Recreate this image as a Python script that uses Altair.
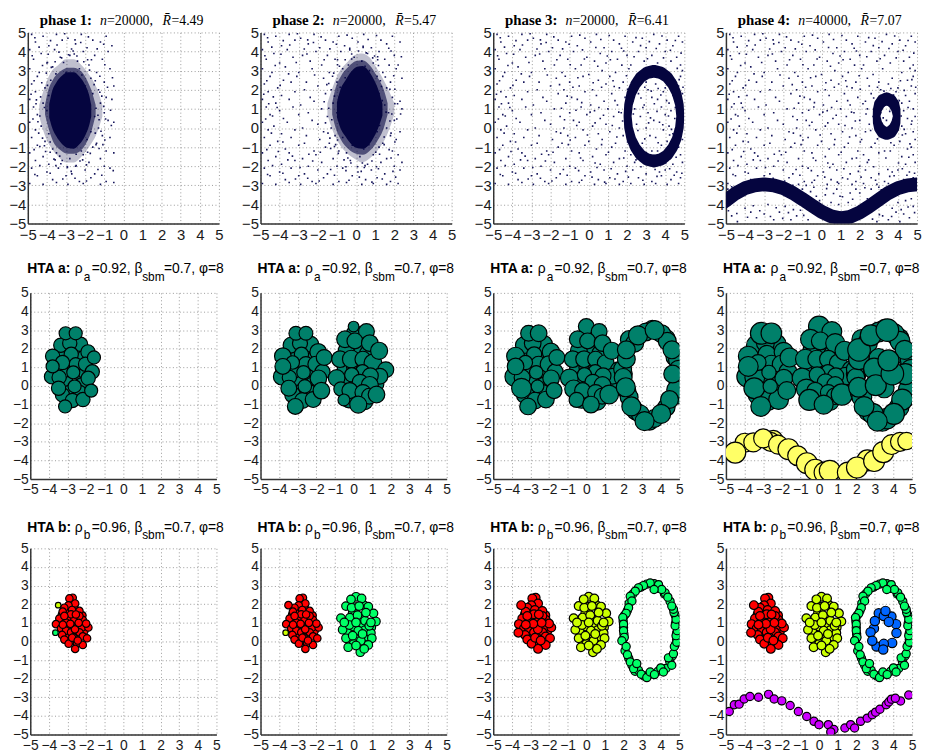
import altair as alt
import pandas as pd

# The background stipple is far too dense to read dot by dot (thousands of dots), so
# the stipple_* lists are a sparse hand-typed approximation of its spread, and the
# dense cores are drawn as bands / trails whose extents were read from the picture.
TICKS = [-5, -4, -3, -2, -1, 0, 1, 2, 3, 4, 5]
NAVY = "#05053f"
DOT = "#17175c"
TEAL = "#00806a"
SAND = "#ffff66"
RED = "#ff0000"
LIME = "#00ff66"
CHART = "#ccff00"
BLUE = "#0066ff"
PURPLE = "#cc00ff"

stipple_main = [
(-4.8,4.9),(-4.2,4.8),(-3.5,4.9),(-2.9,4.7),(-2.2,4.9),(-1.6,4.6),(-0.9,4.8),(-0.2,4.7),(0.4,4.9),(1.3,4.6),(1.9,4.8),(2.8,4.7),(3.4,4.9),(4.1,4.6),(4.7,4.8),
(-4.6,4.5),(-3.9,4.3),(-3.2,4.6),(-2.5,4.4),(-1.9,4.2),(-1.2,4.5),(-0.6,4.3),(0.1,4.5),(0.8,4.2),(1.6,4.4),(2.3,4.5),(3.0,4.2),(3.7,4.4),(4.4,4.3),(4.9,4.5),
(-4.9,4.1),(-4.3,3.9),(-3.6,4.1),(-2.8,3.8),(-2.1,4.0),(-1.5,3.8),(-0.8,4.0),(-0.1,3.7),(0.6,3.9),(1.2,4.0),(2.0,3.8),(2.6,4.0),(3.3,3.8),(4.0,4.0),(4.6,3.7),
(-4.7,3.6),(-4.0,3.4),(-3.3,3.7),(-2.4,3.5),(-1.8,3.3),(-1.1,3.6),(-0.4,3.3),(0.3,3.5),(0.9,3.4),(1.5,3.6),(2.2,3.3),(2.9,3.5),(3.6,3.4),(4.3,3.5),(4.8,3.3),
(-4.9,3.1),(-4.4,2.9),(-3.7,3.2),(-3.0,2.9),(-2.3,3.1),(-1.4,2.9),(-0.7,3.1),(0.0,2.8),(0.7,3.0),(1.4,2.9),(2.1,3.1),(2.7,2.8),(3.2,3.1),(4.2,2.9),(4.9,3.0),
(-4.5,2.7),(-3.8,2.5),(-3.1,2.7),(-2.6,2.4),(-1.7,2.6),(-1.0,2.4),(-0.3,2.7),(0.5,2.5),(1.1,2.7),(1.8,2.4),(2.4,2.6),(3.0,2.4),(3.7,2.6),(4.5,2.5),(4.8,2.7),
(-4.8,2.3),(-4.1,2.1),(-3.4,2.4),(-2.7,2.0),(-2.0,2.2),(-1.3,2.0),(-0.5,2.2),(0.2,2.0),(0.9,2.3),(1.6,2.1),(2.5,2.2),(3.1,2.0),(3.5,2.3),(4.0,2.1),(4.7,2.2),
(-4.6,1.9),(-3.9,1.7),(-3.2,1.9),(-2.4,1.6),(-1.6,1.8),(-0.9,1.6),(-0.2,1.9),(0.4,1.7),(1.2,1.8),(1.9,1.6),(2.6,1.8),(3.3,1.6),(3.9,1.9),(4.4,1.7),(4.9,1.8),
(-4.9,1.5),(-4.2,1.3),(-3.5,1.5),(-2.9,1.2),(-2.2,1.4),(-1.2,1.3),(-0.6,1.5),(0.1,1.2),(0.8,1.4),(1.5,1.2),(2.3,1.4),(2.9,1.2),(3.6,1.5),(4.2,1.3),(4.6,1.4),
(-4.7,1.1),(-4.0,0.9),(-3.3,1.1),(-2.5,0.8),(-1.8,1.0),(-1.0,0.8),(-0.4,1.1),(0.3,0.9),(1.0,1.0),(1.7,0.8),(2.4,1.0),(3.1,0.8),(3.8,1.1),(4.3,0.9),(4.8,1.0),
(-4.5,0.7),(-3.8,0.5),(-3.0,0.7),(-2.3,0.4),(-1.5,0.6),(-0.8,0.4),(-0.1,0.7),(0.6,0.5),(1.3,0.6),(2.0,0.4),(2.7,0.6),(3.4,0.4),(4.0,0.7),(4.5,0.5),(4.9,0.6),
(-4.9,0.3),(-4.3,0.1),(-3.6,0.3),(-2.8,0.0),(-2.0,0.2),(-1.3,0.0),(-0.5,0.3),(0.2,0.1),(0.9,0.2),(1.6,0.0),(2.5,0.2),(3.0,0.0),(3.7,0.3),(4.2,0.1),(4.7,0.2),
(-4.6,-0.1),(-3.9,-0.3),(-3.2,-0.1),(-2.6,-0.4),(-1.7,-0.2),(-1.1,-0.4),(-0.3,-0.1),(0.5,-0.3),(1.1,-0.2),(1.8,-0.4),(2.3,-0.2),(3.2,-0.4),(3.9,-0.1),(4.4,-0.3),(4.8,-0.2),
(-4.8,-0.5),(-4.1,-0.7),(-3.4,-0.5),(-2.7,-0.8),(-1.9,-0.6),(-1.4,-0.8),(-0.7,-0.5),(0.0,-0.7),(0.7,-0.6),(1.4,-0.8),(2.1,-0.6),(2.8,-0.8),(3.5,-0.5),(4.1,-0.7),(4.9,-0.6),
(-4.5,-0.9),(-3.7,-1.1),(-3.0,-0.9),(-2.2,-1.2),(-1.6,-1.0),(-0.9,-1.2),(-0.2,-0.9),(0.4,-1.1),(1.2,-1.0),(1.9,-1.2),(2.6,-1.0),(3.3,-1.2),(3.8,-0.9),(4.5,-1.1),(4.7,-1.0),
(-4.9,-1.3),(-4.2,-1.5),(-3.5,-1.3),(-2.8,-1.6),(-2.1,-1.4),(-1.2,-1.6),(-0.5,-1.3),(0.2,-1.5),(0.9,-1.4),(1.6,-1.6),(2.2,-1.4),(3.0,-1.3),(3.6,-1.2),(4.2,-1.5),(4.8,-1.4),
(-4.6,-1.7),(-3.9,-1.9),(-3.2,-1.7),(-2.5,-2.0),(-1.8,-1.8),(-1.0,-2.0),(-0.3,-1.7),(0.6,-1.9),(1.3,-1.8),(2.0,-2.0),(2.4,-1.8),(3.7,-2.3),(4.4,-1.9),(4.9,-1.8),
(-4.8,-2.1),(-4.0,-2.3),(-3.4,-2.1),(-2.7,-2.4),(-2.0,-2.2),(-1.5,-2.4),(-0.7,-2.1),(0.1,-2.3),(0.8,-2.2),(1.5,-2.4),(2.3,-2.2),(3.0,-2.4),(4.0,-2.2),(4.6,-2.3),
(-4.5,-2.5),(-3.7,-2.7),(-3.0,-2.5),(-2.3,-2.8),(-1.7,-2.6),(-0.9,-2.8),(-0.2,-2.5),(0.5,-2.7),(1.1,-2.6),(1.8,-2.8),(2.6,-2.6),(3.3,-2.8),(3.8,-2.5),(4.3,-2.7),(4.8,-2.6),
(-4.9,-2.9),(-4.2,-2.95),(-3.5,-2.85),(-2.9,-2.95),(-2.1,-2.9),(-1.2,-2.95),(-0.5,-2.85),(0.3,-2.95),(0.9,-2.9),(1.6,-2.95),(2.2,-2.9),(2.9,-2.95),(3.5,-2.9),(4.1,-2.95),(4.7,-2.9),
]
stipple_more = [
(-4.63,4.72),(-3.81,4.57),(-3.07,4.93),(-2.53,4.61),(-1.83,4.77),(-1.03,4.38),(-0.47,4.86),(0.63,4.63),(1.07,4.84),(1.71,4.17),(2.47,4.73),(3.17,4.52),(3.83,4.81),(4.53,4.58),
(-4.41,4.23),(-3.47,4.34),(-2.71,4.13),(-2.23,4.47),(-1.37,4.14),(-0.33,4.09),(0.37,4.21),(0.97,3.77),(1.83,4.03),(2.71,4.31),(3.53,4.16),(4.27,4.07),(4.83,3.92),
(-4.77,3.78),(-3.93,3.86),(-3.13,3.43),(-2.57,3.87),(-1.67,3.57),(-0.97,3.31),(-0.23,3.61),(0.47,3.23),(1.13,3.57),(1.73,3.29),(2.37,3.73),(3.07,3.62),(3.91,3.67),(4.63,3.12),
(-4.23,3.27),(-3.53,2.83),(-2.17,2.77),(-1.23,2.71),(-0.57,2.63),(0.23,2.37),(1.27,2.47),(1.97,2.73),(2.93,2.13),(3.63,2.07),(4.13,2.47),(4.73,2.53),
(-4.67,2.47),(-3.97,2.23),(-1.53,2.27),(-0.83,2.13),(0.67,2.13),(1.33,2.17),(2.03,2.03),(2.73,1.57),(3.27,1.93),(3.77,1.73),(4.33,1.97),(4.93,2.13),
(-4.83,1.77),(-4.33,1.63),(-1.13,1.67),(-0.37,1.33),(0.53,1.07),(1.37,1.43),(2.17,1.27),(2.83,1.07),(3.43,1.27),(4.07,1.43),(4.53,1.07),
(-4.57,1.27),(-4.13,1.07),(-1.43,1.03),(-0.67,0.93),(0.07,0.83),(0.77,0.67),(1.57,0.83),(2.33,0.73),(3.23,0.53),(3.57,0.87),(4.17,0.63),(4.73,0.37),
(-4.73,0.47),(-4.37,0.63),(-1.27,0.43),(-0.63,0.13),(0.33,0.27),(1.23,0.13),(1.77,0.37),(2.57,-0.13),(3.13,0.27),(3.87,0.17),(4.33,-0.07),
(-4.43,-0.27),(-3.83,-0.73),(-1.47,-0.27),(-0.97,-0.63),(-0.07,-0.37),(0.67,-0.87),(1.47,-0.47),(2.03,-0.73),(2.93,-0.57),(3.63,-0.77),(4.23,-0.37),(4.63,-0.83),
(-4.67,-1.13),(-4.07,-1.23),(-3.33,-1.47),(-2.47,-1.37),(-1.87,-1.27),(-1.07,-0.87),(-0.43,-1.57),(0.33,-1.83),(1.03,-1.27),(1.83,-1.57),(2.47,-1.67),(3.37,-1.57),(4.03,-1.83),(4.57,-1.53),
(-4.37,-1.97),(-3.57,-1.67),(-2.93,-2.07),(-2.27,-1.73),(-1.33,-2.17),(-0.53,-2.23),(0.43,-2.07),(1.17,-2.13),(1.93,-2.27),(2.73,-2.03),(3.47,-2.17),(4.23,-2.13),(4.87,-2.37),
(-4.63,-2.43),(-3.83,-2.37),(-3.17,-2.67),(-2.53,-2.63),(-1.93,-2.77),(-1.13,-2.47),(-0.37,-2.73),(0.17,-2.57),(0.83,-2.83),(1.37,-2.67),(2.07,-2.57),(2.83,-2.73),(3.57,-2.53),(4.47,-2.47),
(-4.7,-3.07),(-4.13,-3.03),(-3.3,-3.1),(-1.7,-3.13),(-1.27,-3.27),(-0.57,-3.33),(0.27,-3.17),(0.97,-3.57),(1.63,-3.73),(2.27,-3.13),(2.83,-3.53),(3.13,-3.23),(-0.27,-3.57),(0.63,-3.43),
(-4.87,-4.33),(-4.43,-4.47),(-3.87,-4.67),(-3.23,-4.33),(-2.67,-4.63),(-2.03,-4.73),(-1.47,-4.27),(-0.93,-4.57),(-3.57,-4.07),(-2.37,-4.17),(-1.73,-4.43),(4.87,-4.43),(4.17,-4.27),(3.67,-4.63),(3.03,-4.53),(4.53,-4.13),(2.67,-4.77),
]
stipple_low = [
(-4.7,-4.6),(-4.0,-4.2),(-3.4,-4.7),(-2.8,-4.0),(-2.2,-4.4),(-1.6,-4.8),(-1.1,-4.3),(-0.7,-4.8),(-4.4,-4.9),(-3.7,-4.4),(-3.0,-4.5),(-2.5,-4.8),(-1.9,-4.1),(-1.3,-4.6),
(-0.4,-3.1),(0.2,-3.5),(0.8,-3.2),(1.4,-3.9),(2.0,-3.4),(2.6,-3.2),(3.0,-3.1),(0.5,-3.9),(1.1,-3.6),(1.8,-3.2),(-0.1,-3.8),(1.5,-3.4),(2.4,-3.7),(0.9,-4.0),
(3.2,-4.6),(3.7,-4.2),(4.3,-4.5),(4.8,-4.1),(3.5,-4.8),(4.1,-4.9),(4.6,-4.7),(2.9,-4.9),(4.0,-3.9),(4.7,-3.7),(3.9,-4.4),(4.4,-3.8),
(-4.9,-3.2),(-4.3,-3.0),(-3.9,-3.3),(-1.5,-3.0),(-1.0,-3.2),(-0.8,-3.0),
]
fringe_1 = [
(-4.55,1.47),(-4.47,0.33),(-4.27,2.37),(-4.23,-0.53),(-4.03,2.87),(-4.13,-0.93),(-3.77,3.17),(-3.83,-1.27),(-3.57,3.47),(-3.63,-1.63),(-3.23,3.67),(-3.27,-1.87),(-2.87,3.83),(-2.93,-2.03),
(-2.43,3.77),(-2.47,-1.97),(-2.07,3.47),(-2.13,-1.67),(-1.77,3.03),(-1.73,-1.33),(-1.47,2.47),(-1.43,-0.87),(-1.23,1.87),(-1.17,-0.17),(-1.03,1.13),(-0.93,0.47),(-1.33,0.67),
(-3.97,3.43),(-3.37,3.97),(-2.63,4.03),(-1.87,3.57),(-4.37,-0.97),(-3.53,-1.97),(-2.73,-2.27),(-1.93,-1.93),(-1.27,-1.07),
]
fringe_2 = [
(-1.67,1.37),(-1.6,0.27),(-1.43,2.33),(-1.37,-0.53),(-1.17,2.87),(-1.13,-0.97),(-0.87,3.23),(-0.93,-1.33),(-0.57,3.57),(-0.63,-1.67),(-0.23,3.87),(-0.27,-1.83),(0.13,4.03),(0.07,-2.03),
(0.53,3.93),(0.47,-1.97),(0.87,3.67),(0.83,-1.73),(1.17,3.27),(1.23,-1.37),(1.53,2.67),(1.47,-0.87),(1.77,2.03),(1.83,-0.27),(2.03,1.27),(2.13,0.47),(1.87,0.73),
(-0.97,3.57),(-0.33,4.17),(0.37,4.27),(1.13,3.73),(-1.33,-1.07),(-0.53,-2.03),(0.27,-2.27),(1.07,-2.03),(1.73,-1.13),
]

core_x = [-3.88, -3.72, -3.5, -3.2, -2.9, -2.6, -2.3, -2.0, -1.8, -1.68]
core_low = [0.55, 0.0, -0.45, -0.85, -1.05, -1.08, -0.85, -0.4, 0.1, 0.6]
core_high = [1.25, 1.95, 2.4, 2.75, 2.92, 2.92, 2.7, 2.25, 1.75, 1.2]
mid_x = [-4.1, -3.95, -3.7, -3.3, -2.9, -2.6, -2.2, -1.9, -1.65, -1.45]
mid_low = [0.7, 0.1, -0.65, -1.15, -1.35, -1.35, -1.15, -0.7, -0.1, 0.7]
mid_high = [1.2, 1.9, 2.5, 2.95, 3.15, 3.15, 2.95, 2.5, 1.9, 1.2]
halo_x = [-4.4, -4.1, -3.8, -3.4, -3.0, -2.6, -2.2, -1.8, -1.4, -1.1]
halo_low = [0.6, -0.4, -1.0, -1.5, -1.8, -1.8, -1.5, -1.0, -0.3, 0.6]
halo_high = [1.2, 2.2, 2.9, 3.3, 3.6, 3.6, 3.3, 2.8, 2.1, 1.2]
core2_x = [-1.0, -0.82, -0.55, -0.25, 0.05, 0.35, 0.65, 0.95, 1.2, 1.38]
core2_low = [0.55, 0.0, -0.45, -0.85, -1.05, -1.08, -0.9, -0.45, 0.1, 0.65]
core2_high = [1.35, 2.0, 2.5, 2.95, 3.2, 3.25, 3.0, 2.5, 1.9, 1.25]
mid2_x = [-1.25, -1.1, -0.8, -0.4, 0.0, 0.35, 0.7, 1.1, 1.45, 1.65]
mid2_low = [0.7, 0.1, -0.6, -1.1, -1.35, -1.4, -1.2, -0.7, 0.0, 0.7]
mid2_high = [1.3, 2.0, 2.7, 3.2, 3.5, 3.55, 3.3, 2.7, 2.0, 1.3]
halo2_x = [-1.5, -1.2, -0.9, -0.5, -0.1, 0.3, 0.7, 1.1, 1.6, 2.0]
halo2_low = [0.7, -0.2, -0.8, -1.3, -1.6, -1.8, -1.6, -1.2, -0.4, 0.7]
halo2_high = [1.3, 2.2, 2.9, 3.4, 3.8, 3.9, 3.7, 3.1, 2.2, 1.3]

ring3_x = [3.41, 3.77, 4.10, 4.38, 4.60, 4.74, 4.79, 4.74, 4.60, 4.38, 4.10, 3.77, 3.41, 3.05, 2.72, 2.44, 2.22, 2.08, 2.03, 2.08, 2.22, 2.44, 2.72, 3.05, 3.41]
ring3_y = [2.97, 2.89, 2.66, 2.28, 1.80, 1.23, 0.62, 0.01, -0.56, -1.04, -1.42, -1.65, -1.73, -1.65, -1.42, -1.04, -0.56, 0.01, 0.62, 1.23, 1.80, 2.28, 2.66, 2.89, 2.97]
ring3_w = [0.66, 0.64, 0.60, 0.55, 0.50, 0.45, 0.42, 0.45, 0.50, 0.55, 0.60, 0.64, 0.66, 0.64, 0.60, 0.55, 0.50, 0.45, 0.42, 0.45, 0.50, 0.55, 0.60, 0.64, 0.66]
ring4_x = [3.41, 3.61, 3.78, 3.89, 3.94, 3.89, 3.78, 3.61, 3.41, 3.21, 3.04, 2.93, 2.88, 2.93, 3.04, 3.21, 3.41]
ring4_y = [1.52, 1.45, 1.26, 0.97, 0.62, 0.27, -0.02, -0.21, -0.28, -0.21, -0.02, 0.27, 0.62, 0.97, 1.26, 1.45, 1.52]
ring4_w = [0.68, 0.65, 0.58, 0.48, 0.40, 0.48, 0.58, 0.65, 0.68, 0.65, 0.58, 0.48, 0.40, 0.48, 0.58, 0.65, 0.68]
wave_x = [-5.3, -5, -4.5, -4, -3.5, -3, -2.5, -2, -1.5, -1, -0.5, 0, 0.5, 1, 1.5, 2, 2.5, 3, 3.5, 4, 4.5, 5, 5.3]
wave_y = [-4.0, -3.8, -3.42, -3.15, -3.0, -2.95, -3.0, -3.15, -3.4, -3.72, -4.05, -4.38, -4.62, -4.72, -4.65, -4.42, -4.1, -3.75, -3.4, -3.15, -3.0, -2.95, -2.93]

# HTA a: x, y, radius in phases 1-4 (0 = cluster not there yet)
a_left_fill = [
(-3.05,1.75,.36,.38,.40,.42),(-2.40,1.70,.36,.38,.40,.42),(-3.05,0.95,.36,.38,.40,.42),(-2.30,0.65,.36,.38,.40,.42),
(-3.05,0.15,.36,.38,.40,.42),(-2.25,0.05,.36,.38,.40,.42),(-2.90,-0.35,.36,.38,.40,.42),(-2.35,-0.35,.36,.38,.40,.42),
(-3.55,1.10,.36,.38,.40,.42),(-3.30,0.75,.36,.38,.40,.42),(-2.05,0.75,.36,.38,.40,.42),(-2.70,2.00,.36,.38,.40,.42),
(-3.50,1.65,.36,.38,.40,.42),
]
a_left = [
(-3.36,2.19,.36,.40,.42,.50),(-2.30,2.24,.36,.40,.45,.50),(-2.88,2.30,.36,.38,.42,.45),(-3.80,1.60,.36,.42,.45,.50),
(-2.80,1.70,.36,.36,.38,.45),(-1.90,1.83,.36,.42,.44,.48),(-2.56,1.17,.33,.38,.40,.45),(-2.03,1.17,.36,.40,.42,.45),
(-1.67,0.76,.36,.38,.40,.45),(-3.86,0.50,.36,.42,.48,.52),(-3.45,0.46,.36,.36,.40,.50),(-1.89,0.41,.36,.42,.42,.45),
(-3.27,-0.48,.36,.40,.45,.50),(-2.74,-0.78,.36,.40,.42,.50),(-2.17,-0.73,.36,.40,.42,.50),(-3.48,-0.12,.36,.40,.50,.52),
(-3.27,1.26,.36,.34,.36,.40),(-2.69,0.73,.33,.34,.34,.36),(-2.62,-0.02,.33,.34,.32,.36),(-1.73,-0.25,.33,.42,.40,.45),
(-1.58,1.53,.33,.40,.40,.48),(-3.80,1.05,.33,.40,.42,.50),(-3.13,-1.10,.33,.40,.42,.50),(-3.10,2.83,.33,.35,.40,.55),
(-2.56,2.83,.33,.35,.42,.52),
]
a_mid_fill = [
(0.10,1.90,0,.40,.42,.44),(0.45,2.00,0,.40,.42,.44),(-0.40,1.90,0,.40,.42,.44),(0.75,1.75,0,.40,.42,.44),
(-0.45,0.95,0,.40,.42,.44),(0.05,1.00,0,.40,.42,.44),(0.55,1.15,0,.40,.42,.44),(1.20,0.90,0,.40,.42,.44),
(-0.40,0.20,0,.40,.42,.44),(0.20,-0.35,0,.40,.42,.44),(1.20,0.10,0,.40,.42,.44),(0.05,2.85,0,.40,.42,.44),
(-0.25,-0.75,0,.40,.42,.44),(0.60,-0.85,0,.40,.42,.44),
]
a_mid = [
(0.00,3.19,0,.27,.40,.53),(0.69,2.92,0,.40,.40,.50),(-0.46,2.51,0,.42,.42,.50),(0.07,2.42,0,.40,.40,.45),
(0.87,2.30,0,.42,.42,.48),(-0.73,1.44,0,.42,.42,.50),(-0.12,1.44,0,.45,.42,.45),(0.50,1.44,0,.40,.40,.44),
(1.04,1.23,0,.45,.42,.45),(1.73,0.87,0,.40,.40,.45),(1.41,0.52,0,.40,.40,.45),(0.48,0.76,0,.36,.36,.36),
(0.90,0.55,0,.40,.40,.40),(-0.91,0.43,0,.42,.45,.50),(-0.10,0.60,0,.36,.36,.40),(0.35,0.20,0,.40,.40,.42),
(-0.68,-0.16,0,.36,.45,.50),(-0.20,-0.25,0,.40,.40,.42),(0.87,0.05,0,.43,.42,.42),(0.50,-0.35,0,.40,.40,.40),
(0.85,-0.55,0,.40,.40,.42),(1.23,-0.46,0,.42,.47,.54),(-0.52,-0.75,0,.30,.38,.53),(0.25,-1.00,0,.43,.42,.48),
(1.37,1.89,0,.43,.43,.48),
]
a_ring_fill = [
(2.30,2.50,0,0,.44,.50),(3.55,3.05,0,0,.44,.50),(4.30,2.55,0,0,.44,.50),(4.75,1.55,0,0,.44,.50),
(4.90,0.30,0,0,.44,.50),(4.85,-0.50,0,0,.44,.50),(4.30,-1.15,0,0,.44,.50),(3.40,-1.90,0,0,.44,.50),
(2.65,-1.35,0,0,.44,.50),(2.20,-0.30,0,0,.44,.50),(2.00,0.65,0,0,.44,.50),
]
a_ring = [
(2.60,2.30,0,0,.45,.50),(3.20,2.90,0,0,.45,.50),(4.05,2.80,0,0,.45,.50),(4.35,2.40,0,0,.45,.50),
(4.90,1.40,0,0,.45,.50),(4.95,0.90,0,0,.45,.50),(4.80,-0.20,0,0,.45,.50),(3.65,-1.75,0,0,.45,.52),
(2.90,-1.50,0,0,.45,.52),(2.30,-0.60,0,0,.45,.50),(1.95,0.90,0,0,.45,.45),(1.98,0.46,0,0,.45,.45),
(2.12,-0.07,0,0,.48,.50),(2.15,1.44,0,0,.45,.53),(2.15,1.94,0,0,.45,.57),(2.78,2.72,0,0,.48,.53),
(3.67,3.00,0,0,.48,.57),(4.60,1.94,0,0,.45,.48),(4.64,0.64,0,0,.45,.53),(4.47,-0.73,0,0,.45,.53),
(4.02,-1.50,0,0,.48,.53),(2.42,-1.10,0,0,.48,.50),(3.13,-1.89,0,0,.48,.50),
]
a_inner = [
(3.20,1.50,.48),(2.96,0.93,.53),(3.50,-0.10,.50),(3.05,0.04,.53),(3.94,0.66,.57),(3.73,1.37,.53),
]
a_wave = [
(-4.0,-3.05,.48),(-4.5,-3.58,.53),(-3.53,-3.03,.48),(-2.45,-2.9,.48),(-2.6,-3.0,.48),(-3.0,-2.82,.48),
(-2.2,-3.15,.48),(-1.64,-3.4,.53),(-1.15,-3.75,.50),(-0.65,-4.15,.53),(-0.2,-4.5,.53),(0.3,-4.65,.53),
(0.58,-4.56,.53),(1.55,-4.65,.53),(2.6,-4.0,.53),(2.04,-4.38,.53),(2.96,-4.03,.53),(3.45,-3.55,.53),
(3.9,-3.15,.50),(4.35,-3.0,.48),(4.7,-2.96,.44),
]

# HTA b: x, y
b_red = [
(-3.40,1.00),(-3.05,1.55),(-2.60,1.75),(-2.20,1.40),(-2.10,0.55),(-2.95,0.30),(-2.60,0.00),(-3.30,1.45),(-2.80,0.75),(-2.45,0.35),(-2.75,1.00),(-2.30,0.95),
(-2.72,2.35),(-2.90,2.31),(-2.59,2.04),(-2.95,1.94),(-3.17,1.81),(-3.26,1.60),(-2.76,1.69),(-2.36,1.64),(-3.44,1.23),(-2.95,1.16),
(-2.63,1.19),(-2.18,1.16),(-3.62,0.93),(-3.35,0.70),(-2.99,0.84),(-2.49,0.81),(-2.22,0.75),(-1.88,0.75),(-2.00,0.96),(-3.08,0.58),
(-2.81,0.49),(-2.36,0.49),(-3.29,0.35),(-2.67,0.22),(-2.18,0.27),(-1.95,0.17),(-3.17,0.10),(-2.94,-0.12),(-2.49,-0.10),(-2.18,-0.19),
(-2.59,-0.40),(-3.08,1.02),(-2.36,1.37),(-2.81,1.46),(-3.17,1.37),(-2.60,0.65),(-2.40,1.00),(-2.85,0.95),(-2.55,1.45),(-3.25,0.90),
(-2.75,0.20),(-2.45,0.05),
]
b_red_extra = [(-3.5,1.95)]
b_red_extra2 = [(-3.65,0.47)]
b_mid = [
(0.00,0.80),(0.40,0.85),(0.60,0.60),(0.30,1.30),(-0.35,0.50),(0.75,0.25),(0.10,0.15),(-0.05,1.55),(0.55,1.95),(0.95,0.75),(0.35,-0.20),(-0.15,-0.05),(0.10,1.85),
(-0.41,1.90),(0.13,2.40),(0.43,2.31),(-0.11,1.81),(0.79,1.87),(1.07,1.51),(1.20,1.07),(-0.68,1.25),(-0.20,1.28),(0.21,1.41),
(0.61,1.11),(-0.59,0.63),(-0.23,0.88),(0.25,0.58),(0.93,0.45),(0.98,0.17),(-0.41,0.17),(0.00,-0.13),(0.39,0.04),(0.79,-0.19),
(-0.29,-0.31),(0.36,-0.58),(0.84,0.84),(0.13,1.02),(0.48,0.40),(-0.05,0.31),(0.66,1.55),(0.30,1.90),(-0.50,1.02),(-0.14,2.26),
(0.93,1.02),(0.57,-0.40),(0.13,-0.22),
]
b_ring_back = [
(3.65,3.10),(3.25,3.08),(2.93,2.92),(2.50,2.55),(2.30,2.05),(2.20,1.65),(2.05,1.40),(1.98,1.10),(2.00,0.75),(2.02,0.40),
(1.97,0.10),(2.08,-0.50),(2.28,-0.90),(2.45,-1.28),(2.62,-1.60),(2.80,-1.55),(3.10,-1.85),(3.35,-1.80),(3.85,-1.60),(4.28,-1.45),
(4.48,-1.08),(4.62,-0.78),(4.80,-0.15),(4.85,0.10),(4.85,0.45),(4.80,1.00),(4.78,1.40),(4.50,2.15),(4.20,2.55),(3.85,2.85),
]
b_ring = [
(4.23,2.61),(3.88,3.05),(3.43,3.14),(3.07,3.00),(2.80,2.88),(2.63,2.70),(2.36,2.43),(2.45,2.17),(2.27,1.81),(2.14,1.51),
(1.96,1.28),(2.00,0.93),(2.00,0.58),(2.04,0.22),(1.91,0.04),(2.14,-0.27),(2.21,-0.72),(2.36,-1.10),(2.54,-1.46),(2.71,-1.19),
(2.95,-1.76),(3.25,-1.94),(3.43,-1.64),(3.66,-1.78),(4.00,-1.42),(4.14,-1.64),(4.59,-1.28),(4.41,-0.88),(4.68,-0.66),(4.73,-0.27),
(4.86,-0.04),(4.82,0.31),(4.89,0.58),(4.77,0.84),(4.82,1.19),(4.71,1.55),(4.68,1.73),(4.59,1.90),(4.38,2.38),(4.05,2.79),(3.64,2.79),
]
b_inner = [
(3.21,1.51),(2.95,0.70),(3.00,1.10),(3.89,1.34),(4.14,0.93),(4.16,0.45),(3.93,-0.08),(3.09,-0.27),(2.77,0.49),(2.86,0.04),
(3.48,1.37),(3.75,1.05),(3.48,-0.13),(3.45,-0.43),(3.57,1.64),
]
b_wave = [
(-4.82,-3.76),(-4.55,-3.40),(-4.29,-3.37),(-4.02,-3.09),(-3.71,-2.96),(-3.25,-3.00),(-2.71,-2.84),(-2.41,-3.09),(-2.00,-3.19),(-1.55,-3.44),
(-1.11,-3.76),(-0.66,-4.03),(-0.27,-4.29),(0.00,-4.47),(0.50,-4.47),(0.80,-4.73),(0.63,-4.86),(1.39,-4.65),(1.70,-4.47),(1.91,-4.65),
(2.23,-4.29),(2.59,-4.12),(2.86,-3.94),(3.04,-3.80),(3.27,-3.64),(3.61,-3.40),(3.75,-3.25),(3.89,-3.10),(4.38,-3.20),(4.10,-3.05),(4.82,-2.88),
]

phase_labels = ["phase 1:", "phase 2:", "phase 3:", "phase 4:"]
phase_n = ["=20000,", "=20000,", "=20000,", "=40000,"]
phase_r = ["=4.49", "=5.47", "=6.41", "=7.07"]

SCALE = alt.Scale(domain=[-5, 5], nice=False, zero=False)


def make_axis(font_size, pad):
    return alt.Axis(values=TICKS, format="d", title=None, grid=True, gridColor="#9a9a9a", gridDash=[1, 2.5],
                    gridWidth=1, domainColor="#333333", domainWidth=1.5, ticks=False, labelFontSize=font_size,
                    labelFont="Liberation Sans", labelColor="#1a1a1a", labelOverlap=False, labelFlush=False,
                    labelPadding=pad, zindex=0)


def enc(font_size):
    return (alt.X("x:Q", scale=SCALE, axis=make_axis(font_size, 4)), alt.Y("y:Q", scale=SCALE, axis=make_axis(font_size, 2)))


TOP_AX = enc(15)
LOW_AX = enc(14)


def text(s, px, py, size, font="Liberation Sans", weight="normal", style="normal", color="black"):
    return alt.Chart(pd.DataFrame({"t": [s]})).mark_text(
        align="left", baseline="alphabetic", fontSize=size, font=font, fontWeight=weight, fontStyle=style, color=color
    ).encode(x=alt.value(px), y=alt.value(py), text="t:N")


def dots(rows, xmax=None, ymin=None):
    df = pd.DataFrame(rows, columns=["x", "y"])
    if xmax is not None:
        df = df[df.x <= xmax]
    if ymin is not None:
        df = df[df.y >= ymin]
    return alt.Chart(df).mark_point(filled=True, shape="square", size=2.6, color=DOT, opacity=1, clip=True).encode(
        x=TOP_AX[0], y=TOP_AX[1])


def band(xs, lo, hi, opacity=1.0):
    df = pd.DataFrame({"x": xs, "y": lo, "y2": hi})
    return alt.Chart(df).mark_area(color=NAVY, opacity=opacity, interpolate="monotone", clip=True).encode(
        x=TOP_AX[0], y=TOP_AX[1], y2="y2:Q")


def trail(xs, ys, ws, unit):
    df = pd.DataFrame({"x": xs, "y": ys, "w": ws, "i": list(range(len(xs)))})
    return alt.Chart(df).mark_trail(color=NAVY, clip=True).encode(
        x=TOP_AX[0], y=TOP_AX[1], order="i:Q",
        size=alt.Size("w:Q", legend=None, scale=alt.Scale(domain=[0, 1], range=[0, unit], zero=True)))


def circles(rows, color, col=2, fixed=None, unit=18.8, stroke=1.2):
    recs = []
    for i, r in enumerate(rows):
        rad = fixed if fixed is not None else r[col]
        if rad:
            recs.append({"x": r[0], "y": r[1], "r": rad, "i": i})
    df = pd.DataFrame(recs)
    return alt.Chart(df).mark_point(filled=True, shape="circle", color=color, stroke="black", strokeWidth=stroke,
                                    opacity=1, fillOpacity=1, clip=True).encode(
        x=LOW_AX[0], y=LOW_AX[1], order="i:Q",
        size=alt.Size("r:Q", legend=None,
                      scale=alt.Scale(type="pow", exponent=2, domain=[0, 1], range=[0, 4 * unit * unit])))


def top_title(i):
    return [
        text(phase_labels[i], 12, -8, 15, "Liberation Serif", "bold"),
        text("n", 73, -8, 14, "Liberation Serif", style="italic"),
        text(phase_n[i], 80, -8, 14, "Liberation Serif"),
        text("R\u0304", 136, -8, 14, "Liberation Serif", style="italic"),
        text(phase_r[i], 145, -8, 14, "Liberation Serif"),
    ]


def hta_title(kind, sub, val, py):
    return [
        text("HTA " + kind + ":", -3, py, 14, weight="bold"),
        text("\u03c1", 45, py, 14),
        text(sub, 54, py + 8, 12),
        text(val + ", \u03b2", 62, py, 14),
        text("sbm", 113, py + 8, 12),
        text("=0.7, \u03c6=8", 135, py, 14),
    ]


def panel(layers, title, w, h):
    return alt.layer(*layers, *title).resolve_scale(size="independent").properties(width=w, height=h)


top = [
    panel([dots(stipple_main, xmax=-0.5, ymin=-3), dots(stipple_more, xmax=-0.5, ymin=-3), dots(fringe_1),
           band(halo_x, halo_low, halo_high, 0.25), band(mid_x, mid_low, mid_high, 0.6), band(core_x, core_low, core_high)],
          top_title(0), 193, 193),
    panel([dots(stipple_main, xmax=2.45, ymin=-3), dots(stipple_more, xmax=2.45, ymin=-3), dots(fringe_2),
           band(halo2_x, halo2_low, halo2_high, 0.25), band(mid2_x, mid2_low, mid2_high, 0.6), band(core2_x, core2_low, core2_high)],
          top_title(1), 193, 193),
    panel([dots(stipple_main, ymin=-3), dots(stipple_more, ymin=-3), trail(ring3_x, ring3_y, ring3_w, 19.3)], top_title(2), 193, 193),
    panel([dots(stipple_main), dots(stipple_more), dots(stipple_low), trail(ring4_x, ring4_y, ring4_w, 19.3),
           trail(wave_x, wave_y, [0.72] * len(wave_x), 19.3)], top_title(3), 193, 193),
]

AU = 20.0
a_t = lambda: hta_title("a", "a", "=0.92", -20)


def a_layers(col, groups):
    return [circles(g, TEAL, col, unit=AU) for g in groups]


mid = [
    panel(a_layers(2, [a_left_fill, a_left]), a_t(), 188, 188),
    panel(a_layers(3, [a_left_fill, a_left, a_mid_fill, a_mid]), a_t(), 188, 188),
    panel(a_layers(4, [a_left_fill, a_left, a_mid_fill, a_mid, a_ring_fill, a_ring]), a_t(), 188, 188),
    panel(a_layers(5, [a_left_fill, a_left, a_mid_fill, a_mid, a_ring_fill, a_ring]) +
          [circles(a_inner, TEAL, 2, unit=AU), circles(a_wave, SAND, 2, unit=AU)], a_t(), 188, 188),
]

b_t = lambda: hta_title("b", "b", "=0.96", -17)
red_all = b_red + b_red_extra + b_red_extra2
ring_all = b_ring_back + b_ring
bot = [
    panel([circles(b_red, RED, fixed=.2), circles(b_red_extra, CHART, fixed=.15), circles(b_red_extra2, LIME, fixed=.15)], b_t(), 188, 188),
    panel([circles(b_red + b_red_extra, RED, fixed=.2), circles(b_red_extra2, CHART, fixed=.15), circles(b_mid, LIME, fixed=.23)], b_t(), 188, 188),
    panel([circles(red_all, RED, fixed=.235), circles(b_mid, CHART, fixed=.235), circles(ring_all, LIME, fixed=.22)], b_t(), 188, 188),
    panel([circles(red_all, RED, fixed=.235), circles(b_mid, CHART, fixed=.235), circles(ring_all, LIME, fixed=.22),
           circles(b_inner, BLUE, fixed=.25), circles(b_wave, PURPLE, fixed=.22)], b_t(), 188, 188),
]

chart = alt.concat(*top, *mid, *bot, columns=4, spacing=alt.RowColnumber(column=42, row=70), bounds="flush",
                   align="each", center=alt.RowColboolean(column=True, row=False)).configure_view(stroke=None).properties(
    background="white", padding={"left": 0, "top": 1, "right": 0, "bottom": 0})

chart.save("out.html", embed_options={"renderer": "svg", "actions": False})
